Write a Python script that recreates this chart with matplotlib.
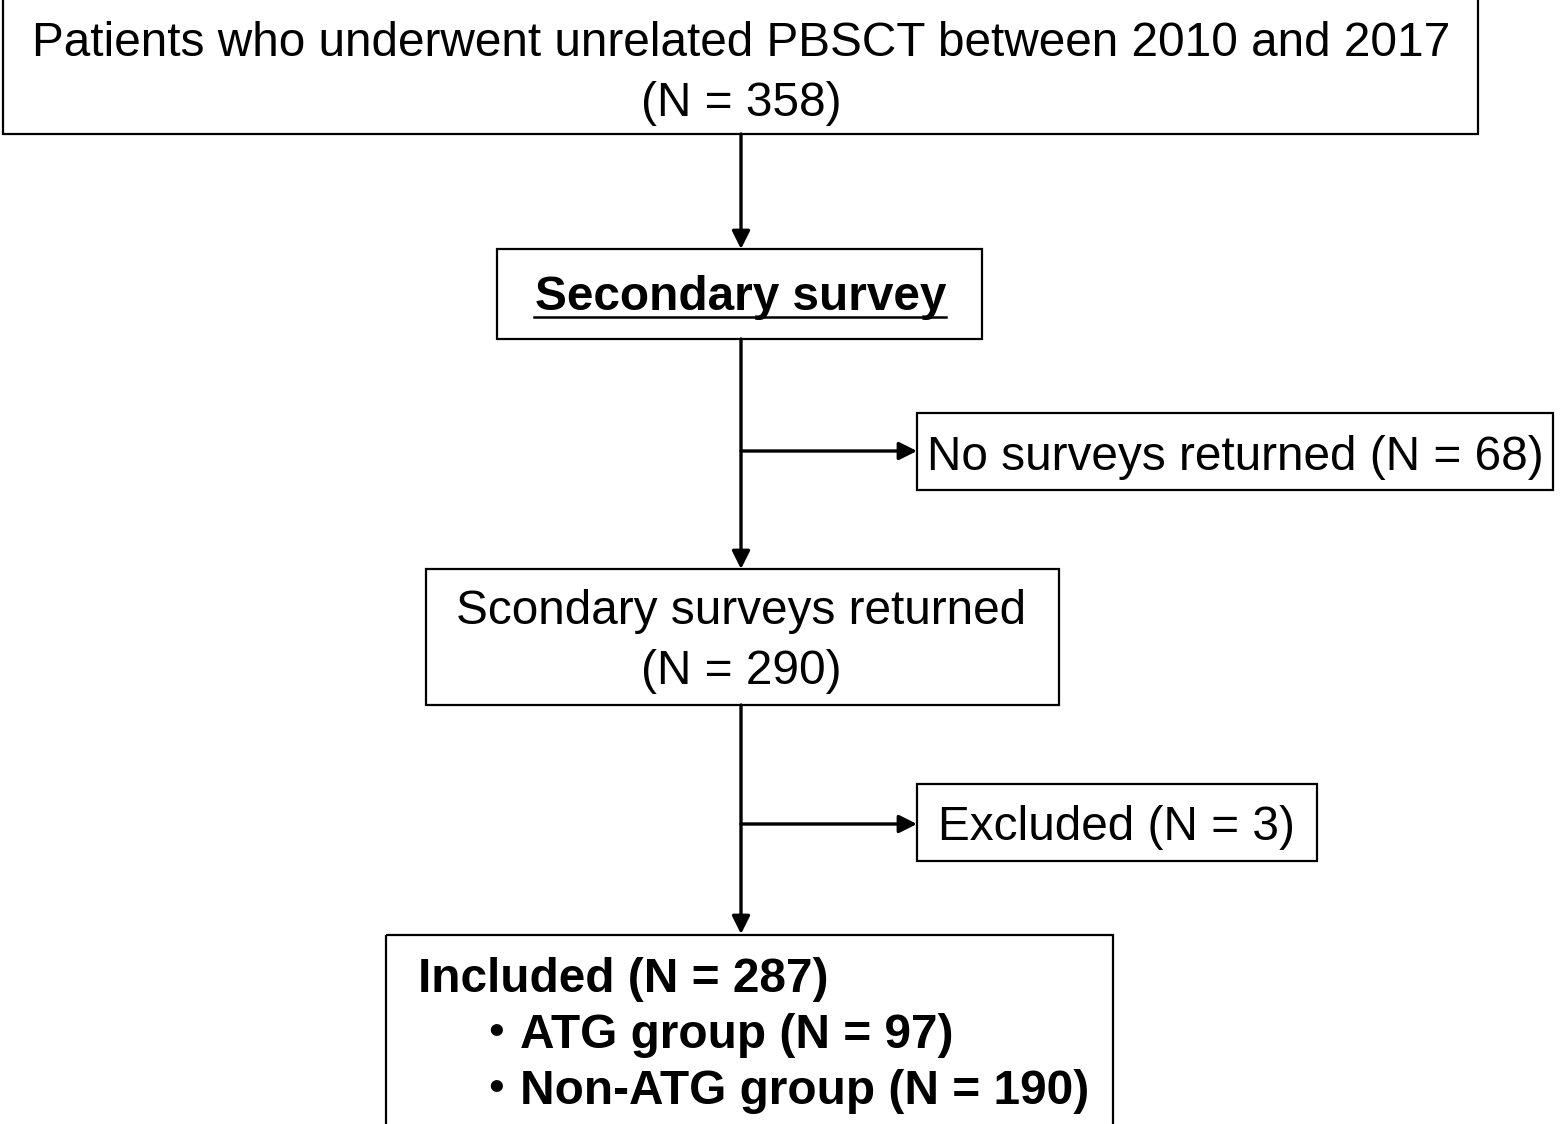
import matplotlib.pyplot as plt
from matplotlib.patches import Rectangle

plt.rcParams['font.family'] = ['Liberation Sans', 'Noto Sans CJK JP', 'DejaVu Sans']

# Flowchart contents
top_lines = ["Patients who underwent unrelated PBSCT between 2010 and 2017", "(N = 358)"]
survey_label = "Secondary survey"
no_return_label = "No surveys returned (N = 68)"
returned_lines = ["Scondary surveys returned", "(N = 290)"]
excluded_label = "Excluded (N = 3)"
included_title = "Included (N = 287)"
included_groups = ["ATG group (N = 97)", "Non-ATG group (N = 190)"]

W, H = 1565, 1124
fig = plt.figure(figsize=(W / 100, H / 100), dpi=100)
ax = fig.add_axes([0, 0, 1, 1])
ax.set_xlim(0, W)
ax.set_ylim(H, 0)
ax.axis('off')

fs = 34.4
box_lw = 1.6
line_lw = 2.4
cx = 741
dy = 3  # small nudge so text sits like the original


def box(x0, y0, x1, y1):
    ax.add_patch(Rectangle((x0, y0), x1 - x0, y1 - y0, fill=False,
                           edgecolor='black', lw=box_lw, clip_on=False))


def arrow(x0, y0, x1, y1):
    ax.annotate('', xy=(x1, y1), xytext=(x0, y0),
                arrowprops=dict(arrowstyle='-|>', lw=line_lw, color='black',
                                mutation_scale=27, shrinkA=0, shrinkB=0))


def label(x, y, s, **kw):
    ax.text(x, y + dy, s, fontsize=fs, va='center', **kw)


# top box
box(3, -10, 1478, 134)
label(cx, 40, top_lines[0], ha='center')
label(cx, 100, top_lines[1], ha='center')
arrow(cx, 134, cx, 249)

# secondary survey
box(497, 249, 982, 339)
label(cx, 295, survey_label, ha='center', fontweight='bold')
ax.plot([534, 946], [317, 317], color='black', lw=1.8)

arrow(cx, 339, cx, 569)
arrow(cx, 451, 917, 451)
box(917, 413, 1553, 490)
label(1235, 455, no_return_label, ha='center')

# returned
box(426, 569, 1059, 705)
label(cx, 609, returned_lines[0], ha='center')
label(cx, 668, returned_lines[1], ha='center')

arrow(cx, 705, cx, 934)
arrow(cx, 824, 917, 824)
box(917, 784, 1317, 861)
label(1117, 825, excluded_label, ha='center')

# included
box(386, 935, 1113, 1140)
label(418, 976, included_title, ha='left', fontweight='bold')
for i, g in enumerate(included_groups):
    y = 1032 + i * 56
    label(496, y, '・', ha='center', fontweight='bold')
    label(520, y, g, ha='left', fontweight='bold')

fig.savefig('out.png', dpi=100)
